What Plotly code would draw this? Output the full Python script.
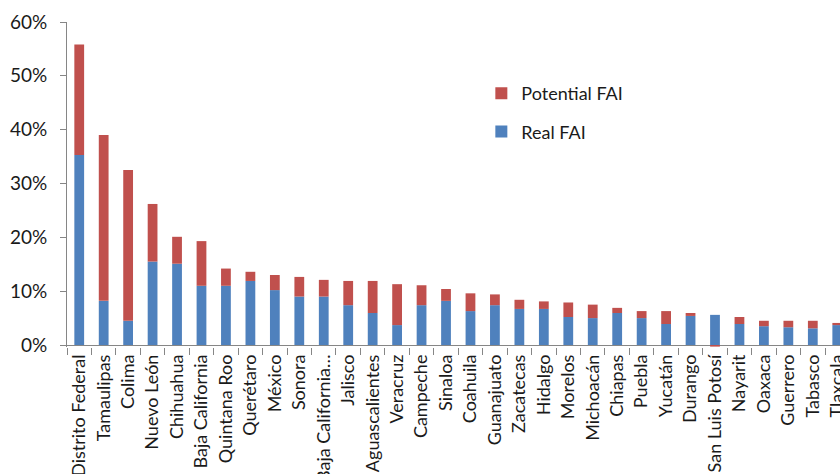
import plotly.graph_objects as go

states = ["Distrito Federal", "Tamaulipas", "Colima", "Nuevo León", "Chihuahua",
          "Baja California", "Quintana Roo", "Querétaro", "México", "Sonora",
          "Baja California…", "Jalisco", "Aguascalientes", "Veracruz", "Campeche",
          "Sinaloa", "Coahuila", "Guanajuato", "Zacatecas", "Hidalgo", "Morelos",
          "Michoacán", "Chiapas", "Puebla", "Yucatán", "Durango", "San Luis Potosí",
          "Nayarit", "Oaxaca", "Guerrero", "Tabasco", "Tlaxcala"]

real_fai = [35.3, 8.2, 4.5, 15.5, 15.1, 11.0, 11.0, 11.9, 10.2, 9.0,
            9.0, 7.4, 5.95, 3.7, 7.4, 8.2, 6.3, 7.4, 6.7, 6.7, 5.2,
            5.0, 5.95, 5.0, 3.9, 5.4, 5.6, 3.9, 3.5, 3.3, 3.1, 3.7]

total_fai = [55.8, 39.0, 32.5, 26.2, 20.1, 19.3, 14.2, 13.6, 13.0, 12.65,
             12.1, 11.9, 11.9, 11.3, 11.1, 10.4, 9.6, 9.4, 8.4, 8.1, 7.9,
             7.5, 6.9, 6.3, 6.3, 5.95, 5.3, 5.2, 4.5, 4.5, 4.5, 4.1]

potential_fai = [round(t - r, 2) for t, r in zip(total_fai, real_fai)]
potential_fai[states.index("San Luis Potosí")] = -0.3

real_frac = [v / 100 for v in real_fai]
pot_frac = [v / 100 for v in potential_fai]

FONT = "Lato"
TXT = "#1a1a1a"
AX = "#868686"

fig = go.Figure()
fig.add_trace(go.Bar(x=states, y=real_frac, name="Real FAI",
                     marker=dict(color="#4F81BD", line=dict(width=0)),
                     legendgroup="r", legendrank=2))
fig.add_trace(go.Bar(x=states, y=pot_frac, name="Potential FAI",
                     marker=dict(color="#C0504D", line=dict(width=0)),
                     legendgroup="p", legendrank=1))

fig.update_layout(
    width=860, height=474,
    barmode="relative", bargap=0.6,
    paper_bgcolor="white", plot_bgcolor="white",
    margin=dict(l=67, r=0, t=22, b=127, autoexpand=False),
    font=dict(family=FONT, size=18, color=TXT),
    showlegend=True,
    legend=dict(x=0.5225, y=0.837, xanchor="left", yanchor="top",
                traceorder="grouped", tracegroupgap=12,
                font=dict(family=FONT, size=18, color=TXT),
                bgcolor="rgba(0,0,0,0)", itemwidth=30),
    xaxis=dict(type="category", range=[-0.5, 31.93],
               tickangle=-90, ticks="outside", tickson="boundaries",
               ticklen=7, tickcolor=AX, showline=False, showgrid=False,
               ticklabelstandoff=3,
               automargin=False, tickfont=dict(family=FONT, size=18, color=TXT)),
    yaxis=dict(range=[-0.0037, 0.6], tickformat=".0%", dtick=0.1,
               tick0=0, ticks="outside", ticklen=6, tickcolor=AX,
               showline=True, linecolor=AX, linewidth=1,
               showgrid=False, zeroline=True, zerolinecolor=AX, zerolinewidth=1,
               ticklabelstandoff=9,
               automargin=False, tickfont=dict(family=FONT, size=19, color=TXT)),
)

page_css = ("document.documentElement.style.overflow='hidden';"
            "document.body.style.margin='0';"
            "document.body.style.overflow='hidden';")

fig.write_html("out.html", post_script=page_css,
               config={"displayModeBar": False, "staticPlot": True})
